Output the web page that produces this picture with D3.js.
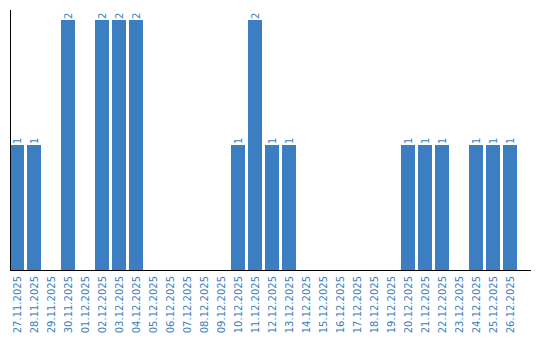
<!DOCTYPE html>
<html>
<head>
<meta charset="utf-8">
<script src="https://cdn.jsdelivr.net/npm/d3@7"></script>
<style>
body { margin: 0; background: #fff; }
text { font-family: "DejaVu Sans", sans-serif; font-size: 10px; fill: #3a7ec3; }
</style>
</head>
<body>
<svg width="540" height="340"></svg>
<script>
var dates = ["27.11.2025","28.11.2025","29.11.2025","30.11.2025","01.12.2025","02.12.2025",
    "03.12.2025","04.12.2025","05.12.2025","06.12.2025","07.12.2025","08.12.2025",
    "09.12.2025","10.12.2025","11.12.2025","12.12.2025","13.12.2025","14.12.2025",
    "15.12.2025","16.12.2025","17.12.2025","18.12.2025","19.12.2025","20.12.2025",
    "21.12.2025","22.12.2025","23.12.2025","24.12.2025","25.12.2025","26.12.2025"];
var counts = [1,1,0,2,0,2,2,2,0,0,0,0,0,1,2,1,1,0,0,0,0,0,0,1,1,1,0,1,1,1];

var svg = d3.select("svg"),
    left = 10,
    base = 270;

var x = d3.scaleBand()
    .domain(dates)
    .range([left, 517])
    .paddingInner(3 / 17)
    .paddingOuter(0);

var y = d3.scaleLinear()
    .domain([0, 2])
    .range([base, 20]);

var data = dates.map(function(d, i) { return { date: d, value: counts[i] }; });

svg.selectAll("rect")
    .data(data.filter(function(d) { return d.value > 0; }))
    .enter().append("rect")
    .attr("x", function(d) { return x(d.date); })
    .attr("y", function(d) { return y(d.value); })
    .attr("width", x.bandwidth())
    .attr("height", function(d) { return base - y(d.value); })
    .attr("fill", "#3b7ec2");

// value labels on top of bars
svg.selectAll(".val")
    .data(data.filter(function(d) { return d.value > 0; }))
    .enter().append("text")
    .attr("class", "val")
    .attr("transform", function(d) {
        return "translate(" + (x(d.date) + x.bandwidth() / 2 + 3.5) + "," + (y(d.value) - 1) + ") rotate(-90)";
    })
    .text(function(d) { return d.value; });

// date labels
svg.selectAll(".lbl")
    .data(dates)
    .enter().append("text")
    .attr("class", "lbl")
    .attr("text-anchor", "end")
    .attr("transform", function(d) {
        return "translate(" + (x(d) + x.bandwidth() / 2 + 3.5) + "," + (base + 6) + ") rotate(-90)";
    })
    .text(function(d) { return d; });

// axis lines
svg.append("line")
    .attr("x1", left + 0.5).attr("x2", left + 0.5)
    .attr("y1", 10).attr("y2", base)
    .attr("stroke", "#000");
svg.append("line")
    .attr("x1", left).attr("x2", 531)
    .attr("y1", base + 0.5).attr("y2", base + 0.5)
    .attr("stroke", "#000");
</script>
</body>
</html>
